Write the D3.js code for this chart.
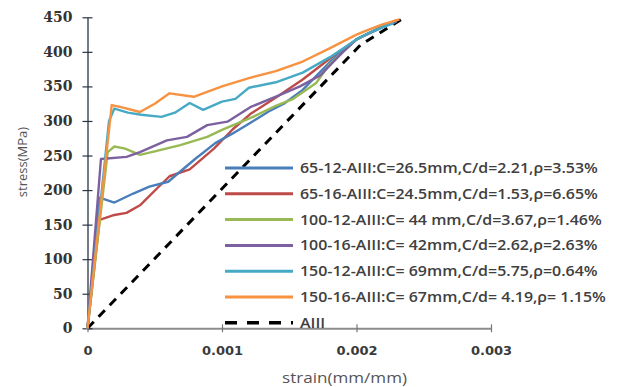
<!DOCTYPE html>
<html>
<head>
<meta charset="utf-8">
<script src="https://cdn.jsdelivr.net/npm/d3@7"></script>
<style>
  body { margin: 0; background: #fff; }
  svg { display: block; }
</style>
</head>
<body>
<div id="chart"></div>
<script>
// strain (mm/mm) vs stress (MPa)
const s65_12 = [[0,0],[0.00009,189],[0.0002,182],[0.00034,195],[0.00046,205],[0.0006,212],[0.0008,245],[0.00095,268],[0.00108,282],[0.0012,296],[0.00135,314],[0.00146,325],[0.0016,345],[0.0018,385],[0.002,418],[0.0021,427],[0.0022,436],[0.0023,444]];
const s65_16 = [[0,0],[0.00009,157],[0.0002,164],[0.00029,167],[0.00039,178],[0.00052,203],[0.00061,220],[0.00076,230],[0.00094,260],[0.00108,288],[0.00121,310],[0.00141,335],[0.0016,360],[0.0018,390],[0.002,418],[0.0021,428],[0.0022,437],[0.0023,446]];
const s100_12 = [[0,0],[0.00015,255],[0.0002,263],[0.00028,260],[0.00039,251],[0.0005,256],[0.00069,265],[0.00089,277],[0.001,287],[0.00123,306],[0.0014,322],[0.00153,332],[0.0017,355],[0.0018,382],[0.002,418],[0.0021,428],[0.0022,438],[0.0023,446]];
const s100_16 = [[0,0],[0.0001,245],[0.00029,248],[0.00039,255],[0.00059,272],[0.00074,277],[0.00089,294],[0.00104,299],[0.00121,320],[0.00141,336],[0.00158,350],[0.00173,366],[0.0019,400],[0.002,418],[0.0021,428],[0.0022,437],[0.0023,445]];
const s150_12 = [[0,0],[0.00016,300],[0.0002,318],[0.0003,312],[0.0004,309],[0.00055,306],[0.00065,312],[0.00076,326],[0.00086,316],[0.001,328],[0.0011,332],[0.0012,348],[0.0014,356],[0.0016,370],[0.0018,392],[0.002,418],[0.0021,428],[0.0022,436],[0.00228,442]];
const s150_16 = [[0,0],[0.00018,323],[0.00025,320],[0.00039,313],[0.0005,325],[0.00061,340],[0.00079,335],[0.001,350],[0.0012,362],[0.0014,372],[0.0016,386],[0.0018,405],[0.002,425],[0.0021,433],[0.0022,440],[0.00232,447]];
const aiii = [[0,0],[0.00203,410],[0.00236,450]];

const seriesNames = [
  "65-12-AIII:C=26.5mm,C/d=2.21,\u03c1=3.53%",
  "65-16-AIII:C=24.5mm,C/d=1.53,\u03c1=6.65%",
  "100-12-AIII:C= 44 mm,C/d=3.67,\u03c1=1.46%",
  "100-16-AIII:C= 42mm,C/d=2.62,\u03c1=2.63%",
  "150-12-AIII:C= 69mm,C/d=5.75,\u03c1=0.64%",
  "150-16-AIII:C= 67mm,C/d= 4.19,\u03c1= 1.15%",
  "AIII"
];
const seriesColors = ["#4a7ebb", "#be4b48", "#98b954", "#7d60a0", "#46aac5", "#f69240", "#000"];
const seriesData = [s65_12, s65_16, s100_12, s100_16, s150_12, s150_16, aiii];

const xTicks = [0, 0.001, 0.002, 0.003];
const yTicks = [0, 50, 100, 150, 200, 250, 300, 350, 400, 450];

const width = 624, height = 387;
const margin = {left: 87.5, right: 133, top: 17.3, bottom: 58.7};

const x = d3.scaleLinear().domain([0, 0.003]).range([margin.left, width - margin.right]);
const y = d3.scaleLinear().domain([0, 450]).range([height - margin.bottom, margin.top]);

const svg = d3.select("#chart").append("svg")
  .attr("width", width)
  .attr("height", height);

// x axis (gray, ticks crossing the line)
const xAxis = svg.append("g")
  .attr("transform", `translate(0,${y(0)})`)
  .call(d3.axisBottom(x).tickValues(xTicks).tickFormat(d => d === 0 ? "0" : d3.format(".3f")(d)).tickSize(0).tickPadding(0));
xAxis.select(".domain").attr("stroke", "#8c8c8c").attr("stroke-width", 2);
xAxis.selectAll(".tick line").attr("y1", -4).attr("y2", 4).attr("stroke", "#777").attr("stroke-width", 1.2);
xAxis.selectAll(".tick text")
  .attr("y", 27)
  .attr("dy", null)
  .attr("fill", "#3a3a3a")
  .style("font", "bold 13px 'DejaVu Sans', sans-serif");

// y axis
const yAxis = svg.append("g")
  .attr("transform", `translate(${x(0)},0)`)
  .call(d3.axisLeft(y).tickValues(yTicks).tickSize(0).tickPadding(0));
yAxis.select(".domain").attr("stroke", "#2b3445").attr("stroke-width", 1.3);
yAxis.selectAll(".tick line").attr("x1", -5).attr("x2", 5).attr("stroke", "#2b3445").attr("stroke-width", 1.2);
yAxis.selectAll(".tick text")
  .attr("x", -15)
  .attr("fill", "#333")
  .style("font", "bold 14px 'DejaVu Serif', serif");

// axis titles
svg.append("text")
  .attr("transform", "translate(27,162) rotate(-90)")
  .attr("text-anchor", "middle")
  .attr("fill", "#555")
  .style("font", "13px 'Open Sans', sans-serif")
  .text("stress(MPa)");
svg.append("text")
  .attr("x", 282)
  .attr("y", 383)
  .attr("textLength", 125)
  .attr("lengthAdjust", "spacingAndGlyphs")
  .attr("fill", "#555")
  .style("font", "14px 'Open Sans', sans-serif")
  .text("strain(mm/mm)");

// lines
const line = d3.line()
  .x(d => x(d[0]))
  .y(d => y(d[1]));

const order = [6, 1, 0, 2, 3, 4, 5];
svg.append("g")
  .selectAll("path")
  .data(order)
  .join("path")
  .attr("fill", "none")
  .attr("stroke", i => seriesColors[i])
  .attr("stroke-width", i => i === 6 ? 3 : 2.4)
  .attr("stroke-linejoin", "round")
  .attr("stroke-dasharray", i => i === 6 ? "9,7" : null)
  .attr("d", i => line(seriesData[i]));

// legend
const legend = svg.append("g")
  .selectAll("g")
  .data(seriesNames)
  .join("g")
  .attr("transform", (d, i) => `translate(225,${168 + i * 25.8})`);

legend.append("line")
  .attr("x1", 0)
  .attr("x2", 68)
  .attr("stroke", (d, i) => seriesColors[i])
  .attr("stroke-width", (d, i) => i === 6 ? 3.5 : 3)
  .attr("stroke-dasharray", (d, i) => i === 6 ? "12,10" : null);

// the original's legend text is stretched wide; widen it the same way
legend.append("text")
  .attr("x", 75)
  .attr("dy", "0.35em")
  .attr("fill", "#404040")
  .style("font", "600 14.5px 'Open Sans', sans-serif")
  .text(d => d)
  .each(function() {
    const w = this.getComputedTextLength();
    d3.select(this).attr("textLength", w * 1.1).attr("lengthAdjust", "spacingAndGlyphs");
  });
</script>
</body>
</html>
